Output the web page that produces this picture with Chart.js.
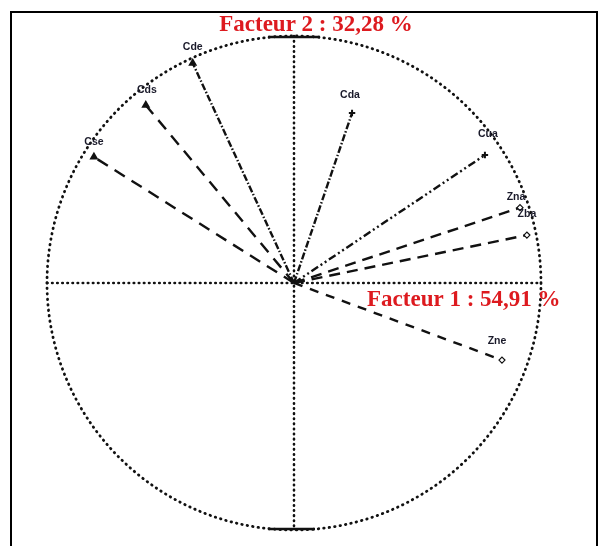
<!DOCTYPE html>
<html>
<head>
<meta charset="utf-8">
<script src="https://cdn.jsdelivr.net/npm/chart.js@4/dist/chart.umd.min.js"></script>
<style>
  html, body { margin: 0; padding: 0; background: #fff; }
  #wrap { position: relative; width: 606px; height: 546px; }
</style>
</head>
<body>
<div id="wrap"><canvas id="c" width="606" height="546"></canvas></div>
<script>
// Variable loadings on the first two factors (correlation circle)
const variables = ['Cde', 'Cds', 'Cse', 'Cda', 'Cua', 'Zna', 'Zba', 'Zne'];
const factor1   = [-0.41, -0.60, -0.81, 0.235, 0.773, 0.915, 0.943, 0.842];
const factor2   = [ 0.89,  0.72,  0.51, 0.688, 0.518, 0.305, 0.194, -0.312];
const axisTitles = ['Facteur 1 : 54,91 %', 'Facteur 2 : 32,28 %'];

// Line / marker styling per variable
const dashes = [
  [7, 2, 1.5, 2], [12, 8], [12, 8], [7, 2, 1.5, 2],
  [8, 3, 2, 3, 2, 3], [11, 7], [11, 7], [9, 8]
];
const markers = ['triangle', 'triangle', 'triangle', 'cross', 'cross', 'rectRot', 'rectRot', 'rectRot'];
const labelOffsets = [[0, -16], [1, -15], [0, -15], [-2, -18], [3, -21], [-4, -11], [0, -21], [-5, -19]];

const datasets = variables.map((name, i) => {
  const hollow = markers[i] === 'rectRot';
  return {
    label: name,
    data: [{x: 0, y: 0}, {x: factor1[i], y: factor2[i]}],
    showLine: true,
    borderColor: '#111',
    borderWidth: 2.4,
    borderDash: dashes[i],
    pointStyle: markers[i],
    pointRadius: [0, hollow ? 3 : 3.2],
    pointBorderWidth: hollow ? 1.2 : 2,
    pointBorderColor: '#111',
    pointBackgroundColor: hollow ? '#fff' : '#111'
  };
});

// Circle, axes, titles and variable names
const decorations = {
  id: 'decorations',
  beforeDatasetsDraw(chart) {
    const {ctx, scales: {x, y}} = chart;
    const cx = x.getPixelForValue(0), cy = y.getPixelForValue(0);
    const r = x.getPixelForValue(1) - cx;
    ctx.save();
    ctx.strokeStyle = '#111';
    ctx.lineCap = 'round';
    // unit circle, dotted
    ctx.lineWidth = 2.8;
    ctx.setLineDash([0.5, 5]);
    ctx.beginPath();
    ctx.arc(cx, cy, r, 0, Math.PI * 2);
    ctx.stroke();
    // axes through the origin, dotted
    ctx.lineWidth = 2.6;
    ctx.setLineDash([0.5, 4.6]);
    ctx.beginPath();
    ctx.moveTo(x.getPixelForValue(-1), cy);
    ctx.lineTo(x.getPixelForValue(1), cy);
    ctx.moveTo(cx, y.getPixelForValue(1));
    ctx.lineTo(cx, y.getPixelForValue(-1));
    ctx.stroke();
    // short solid marks at the top and bottom of the circle
    ctx.setLineDash([]);
    ctx.lineWidth = 2.6;
    ctx.lineCap = 'butt';
    ctx.beginPath();
    ctx.moveTo(x.getPixelForValue(-0.105), y.getPixelForValue(1) + 1);
    ctx.lineTo(x.getPixelForValue(0.105), y.getPixelForValue(1) + 1);
    ctx.moveTo(x.getPixelForValue(-0.105), y.getPixelForValue(-1) - 1);
    ctx.lineTo(x.getPixelForValue(0.085), y.getPixelForValue(-1) - 1);
    ctx.stroke();
    ctx.restore();
  },
  afterDatasetsDraw(chart) {
    const {ctx, scales: {x, y}} = chart;
    ctx.save();
    // axis titles
    ctx.fillStyle = '#dd1a1f';
    ctx.font = 'bold 23px "Liberation Serif", "Times New Roman", serif';
    ctx.textBaseline = 'alphabetic';
    ctx.textAlign = 'center';
    ctx.fillText(axisTitles[1], 316, 31);
    ctx.textAlign = 'left';
    ctx.fillText(axisTitles[0], 367, 306);
    // variable names above each arrow tip
    ctx.fillStyle = '#1a1a2a';
    ctx.font = 'bold 10.5px "Liberation Sans", Arial, sans-serif';
    ctx.textAlign = 'center';
    ctx.textBaseline = 'middle';
    ctx.filter = 'blur(0.5px)';
    variables.forEach((name, i) => {
      const px = x.getPixelForValue(factor1[i]) + labelOffsets[i][0];
      const py = y.getPixelForValue(factor2[i]) + labelOffsets[i][1];
      ctx.fillText(name, px, py);
    });
    ctx.filter = 'none';
    // frame
    ctx.strokeStyle = '#000';
    ctx.lineWidth = 2;
    ctx.strokeRect(11, 12, 586, 560);
    ctx.restore();
  }
};

new Chart(document.getElementById('c'), {
  type: 'scatter',
  data: { datasets },
  options: {
    responsive: false,
    animation: false,
    layout: { padding: 0, autoPadding: false },
    plugins: { legend: { display: false }, tooltip: { enabled: false } },
    scales: {
      x: { type: 'linear', display: false, min: -1.1903, max: 1.2632 },
      y: { type: 'linear', display: false, min: -1.0648, max: 1.1457 }
    }
  },
  plugins: [decorations]
});
</script>
</body>
</html>
